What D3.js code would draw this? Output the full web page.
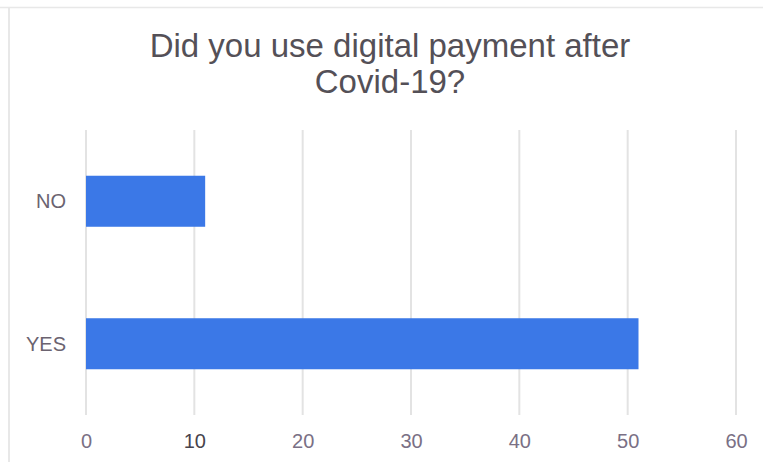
<!DOCTYPE html>
<html>
<head>
<meta charset="utf-8">
<script src="https://cdn.jsdelivr.net/npm/d3@7"></script>
<style>
  html, body { margin: 0; padding: 0; background: #fff; }
  svg { display: block; }
</style>
</head>
<body>
<svg id="chart" width="763" height="462"></svg>
<script>
// Survey answers and counts
const categories = ["NO", "YES"];
const values = [11, 51];
const xTicks = [0, 10, 20, 30, 40, 50, 60];
const titleLines = ["Did you use digital payment after", "Covid-19?"];

const W = 763, H = 462;
const plot = { left: 86, right: 736, top: 130, bottom: 415 };
const font = "Arial, 'Liberation Sans', sans-serif";

const svg = d3.select("#chart");

// Outer frame (top and left edges)
svg.append("line").attr("x1", 0).attr("x2", W).attr("y1", 7.5).attr("y2", 7.5)
  .attr("stroke", "#e8e8e8").attr("stroke-width", 1.5);
svg.append("line").attr("x1", 9).attr("x2", 9).attr("y1", 7).attr("y2", H)
  .attr("stroke", "#e8e8e8").attr("stroke-width", 2);

const x = d3.scaleLinear().domain([0, 60]).range([plot.left, plot.right]);
const y = d3.scaleBand().domain(categories).range([plot.top, plot.bottom])
  .paddingInner(0.642).paddingOuter(0.321);

// Vertical gridlines
svg.append("g").selectAll("line").data(xTicks).join("line")
  .attr("x1", d => x(d)).attr("x2", d => x(d))
  .attr("y1", plot.top).attr("y2", plot.bottom)
  .attr("stroke", "#e3e3e3").attr("stroke-width", 2);

// Bars
svg.append("g").selectAll("rect").data(categories).join("rect")
  .attr("x", x(0))
  .attr("y", d => y(d))
  .attr("width", (d, i) => x(values[i]) - x(0))
  .attr("height", y.bandwidth())
  .attr("fill", "#3b78e7");

// X axis tick labels
const xAxis = d3.axisBottom(x).tickValues(xTicks).tickSize(0).tickPadding(0).tickFormat(d3.format("d"));
const gx = svg.append("g").attr("transform", `translate(0,${plot.bottom})`).call(xAxis);
gx.select(".domain").remove();
gx.selectAll("text")
  .attr("dy", null).attr("y", 33)
  .attr("font-family", font).attr("font-size", 20)
  .attr("fill", d => d === 10 ? "#47434c" : "#7a7085");

// Y axis category labels
const yAxis = d3.axisLeft(y).tickSize(0).tickPadding(0);
const gy = svg.append("g").attr("transform", `translate(66,0)`).call(yAxis);
gy.select(".domain").remove();
gy.selectAll("text")
  .attr("dy", "0.36em")
  .attr("font-family", font).attr("font-size", 20)
  .attr("fill", "#6b6370");

// Title
svg.append("text")
  .attr("x", 390).attr("text-anchor", "middle")
  .attr("font-family", font).attr("font-size", 33)
  .attr("fill", "#545057")
  .selectAll("tspan").data(titleLines).join("tspan")
  .attr("x", 390)
  .attr("y", (d, i) => 57 + i * 36)
  .text(d => d);
</script>
</body>
</html>
